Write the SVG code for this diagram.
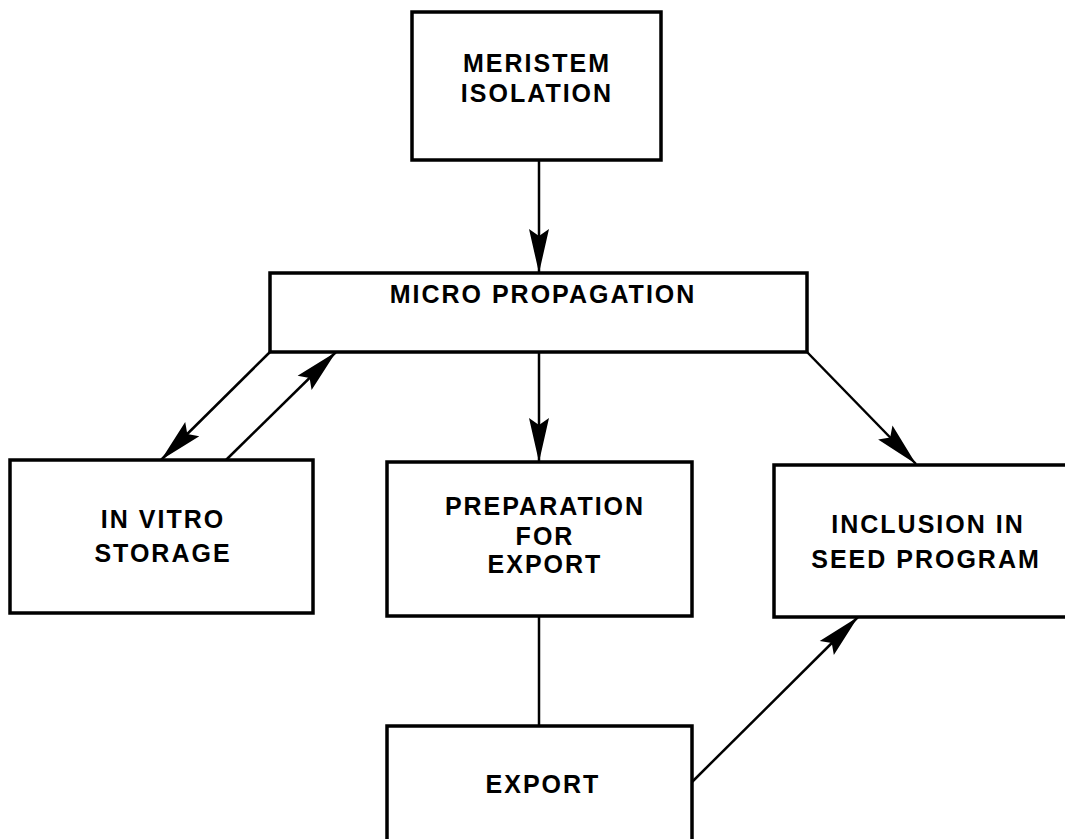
<svg xmlns="http://www.w3.org/2000/svg" width="1065" height="839" viewBox="0 0 1065 839">
<style>
.box{fill:#fff;stroke:#000;stroke-width:3.5}
.lbl{font-family:"Liberation Sans",Arial,sans-serif;font-weight:bold;font-size:25px;letter-spacing:2px;text-anchor:middle;fill:#000}
.con{stroke:#000;stroke-width:2.5;fill:none}
</style>
<defs>
<marker id="ah" viewBox="-44 -11 46 22" refX="0" refY="0" markerUnits="userSpaceOnUse" markerWidth="46" markerHeight="22" orient="auto">
<path d="M0,0 L-44,-10 L-37,0 L-44,10 Z" fill="#000"/>
</marker>
</defs>
<rect width="1065" height="839" fill="#fff"/>
<g id="connectors">
<line class="con" x1="539" y1="160" x2="539" y2="273" marker-end="url(#ah)"/>
<line class="con" x1="539" y1="352" x2="539" y2="462" marker-end="url(#ah)"/>
<line class="con" x1="270" y1="352" x2="161" y2="460" marker-end="url(#ah)"/>
<line class="con" x1="226" y1="460" x2="336" y2="352" marker-end="url(#ah)"/>
<line class="con" x1="807" y1="352" x2="916" y2="464" marker-end="url(#ah)"/>
<line class="con" x1="539" y1="616" x2="539" y2="726"/>
<line class="con" x1="692" y1="782" x2="858" y2="617" marker-end="url(#ah)"/>
</g>
<g id="meristem">
<rect class="box" x="412" y="12" width="249" height="148"/>
<text class="lbl" x="537" y="72">MERISTEM</text>
<text class="lbl" x="537" y="102">ISOLATION</text>
</g>
<g id="micro">
<rect class="box" x="270" y="273" width="537" height="79"/>
<text class="lbl" x="543" y="303">MICRO PROPAGATION</text>
</g>
<g id="invitro">
<rect class="box" x="10" y="460" width="303" height="153"/>
<text class="lbl" x="163" y="528">IN VITRO</text>
<text class="lbl" x="163" y="562">STORAGE</text>
</g>
<g id="preparation">
<rect class="box" x="387" y="462" width="305" height="154"/>
<text class="lbl" x="545" y="515">PREPARATION</text>
<text class="lbl" x="545" y="545">FOR</text>
<text class="lbl" x="545" y="573">EXPORT</text>
</g>
<g id="inclusion">
<rect class="box" x="774" y="465" width="300" height="152"/>
<text class="lbl" x="928" y="533">INCLUSION IN</text>
<text class="lbl" x="926" y="568">SEED PROGRAM</text>
</g>
<g id="export">
<rect class="box" x="387" y="726" width="305" height="125"/>
<text class="lbl" x="543" y="793">EXPORT</text>
</g>
</svg>
